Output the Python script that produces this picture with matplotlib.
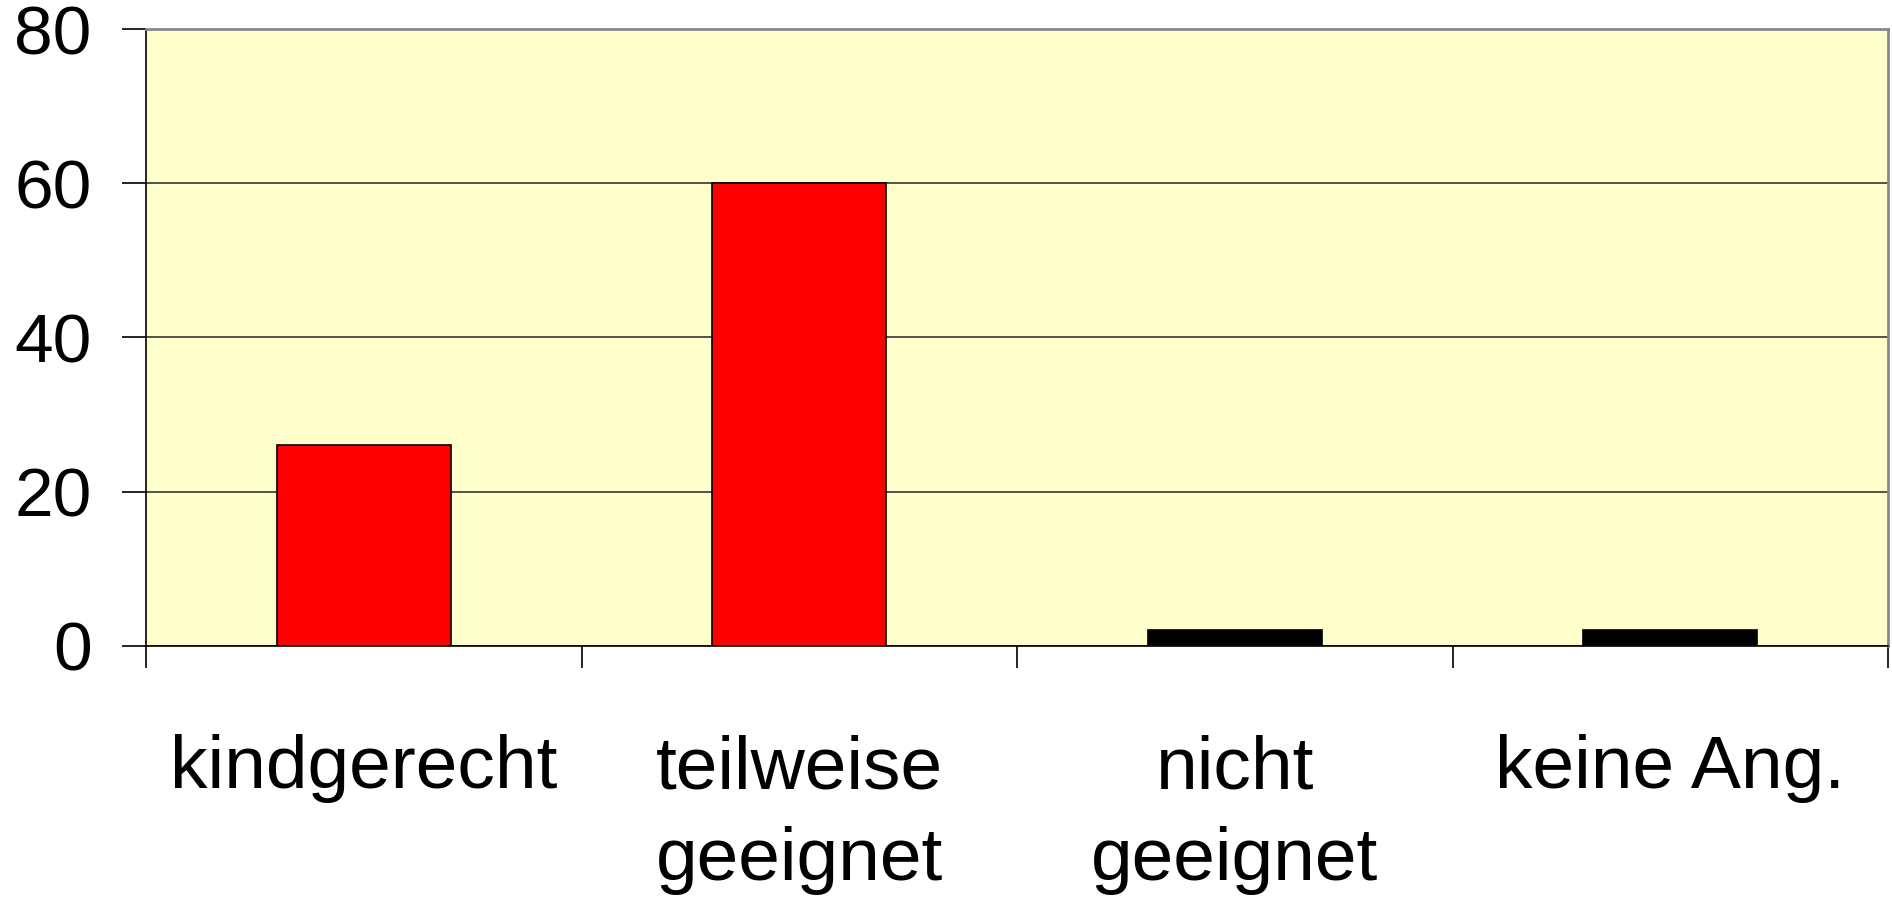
import numpy as np
import matplotlib.pyplot as plt

plt.rcParams['font.family'] = ['Liberation Sans', 'DejaVu Sans']

categories = ['kindgerecht', 'teilweise\ngeeignet', 'nicht\ngeeignet', 'keine Ang.']
values = [26, 60, 2, 2]
bar_colors = ['#FF0000', '#FF0000', '#000000', '#000000']
yticks = [0, 20, 40, 60, 80]

fig = plt.figure(figsize=(18.92, 8.97), dpi=100)
ax = fig.add_axes([146/1892, 1 - 645.5/897, (1888-146)/1892, (645.5-29.5)/897])
ax.set_facecolor('#FFFFCC')

x = np.arange(len(categories))
ax.bar(x, values, width=0.4, color=bar_colors, edgecolor='black', linewidth=1.2, zorder=3)

ax.set_xlim(-0.5, len(categories) - 0.5)
ax.set_ylim(0, 80)
ax.set_yticks(yticks)
ax.set_yticklabels([str(v) for v in yticks], fontsize=50)
ax.yaxis.grid(True, color='#222222', linewidth=1.1, zorder=1)
ax.set_axisbelow(True)

# category labels at centers, tick marks at boundaries
ax.set_xticks(x)
ax.set_xticklabels(categories, fontsize=54, linespacing=1.42)
ax.set_xticks(np.arange(len(categories) + 1) - 0.5, minor=True)
ax.tick_params(axis='x', which='major', length=0, pad=64)
ax.tick_params(axis='x', which='minor', length=16, width=1.2, direction='out')
ax.tick_params(axis='y', length=17, width=1.2, pad=22, direction='out')

ax.spines['left'].set_color('black')
ax.spines['bottom'].set_color('black')
ax.spines['left'].set_linewidth(1.2)
ax.spines['bottom'].set_linewidth(1.2)
ax.spines['top'].set_color('#888888')
ax.spines['right'].set_color('#888888')
ax.spines['top'].set_linewidth(2)
ax.spines['right'].set_linewidth(2)

fig.savefig('out.png', dpi=100)
